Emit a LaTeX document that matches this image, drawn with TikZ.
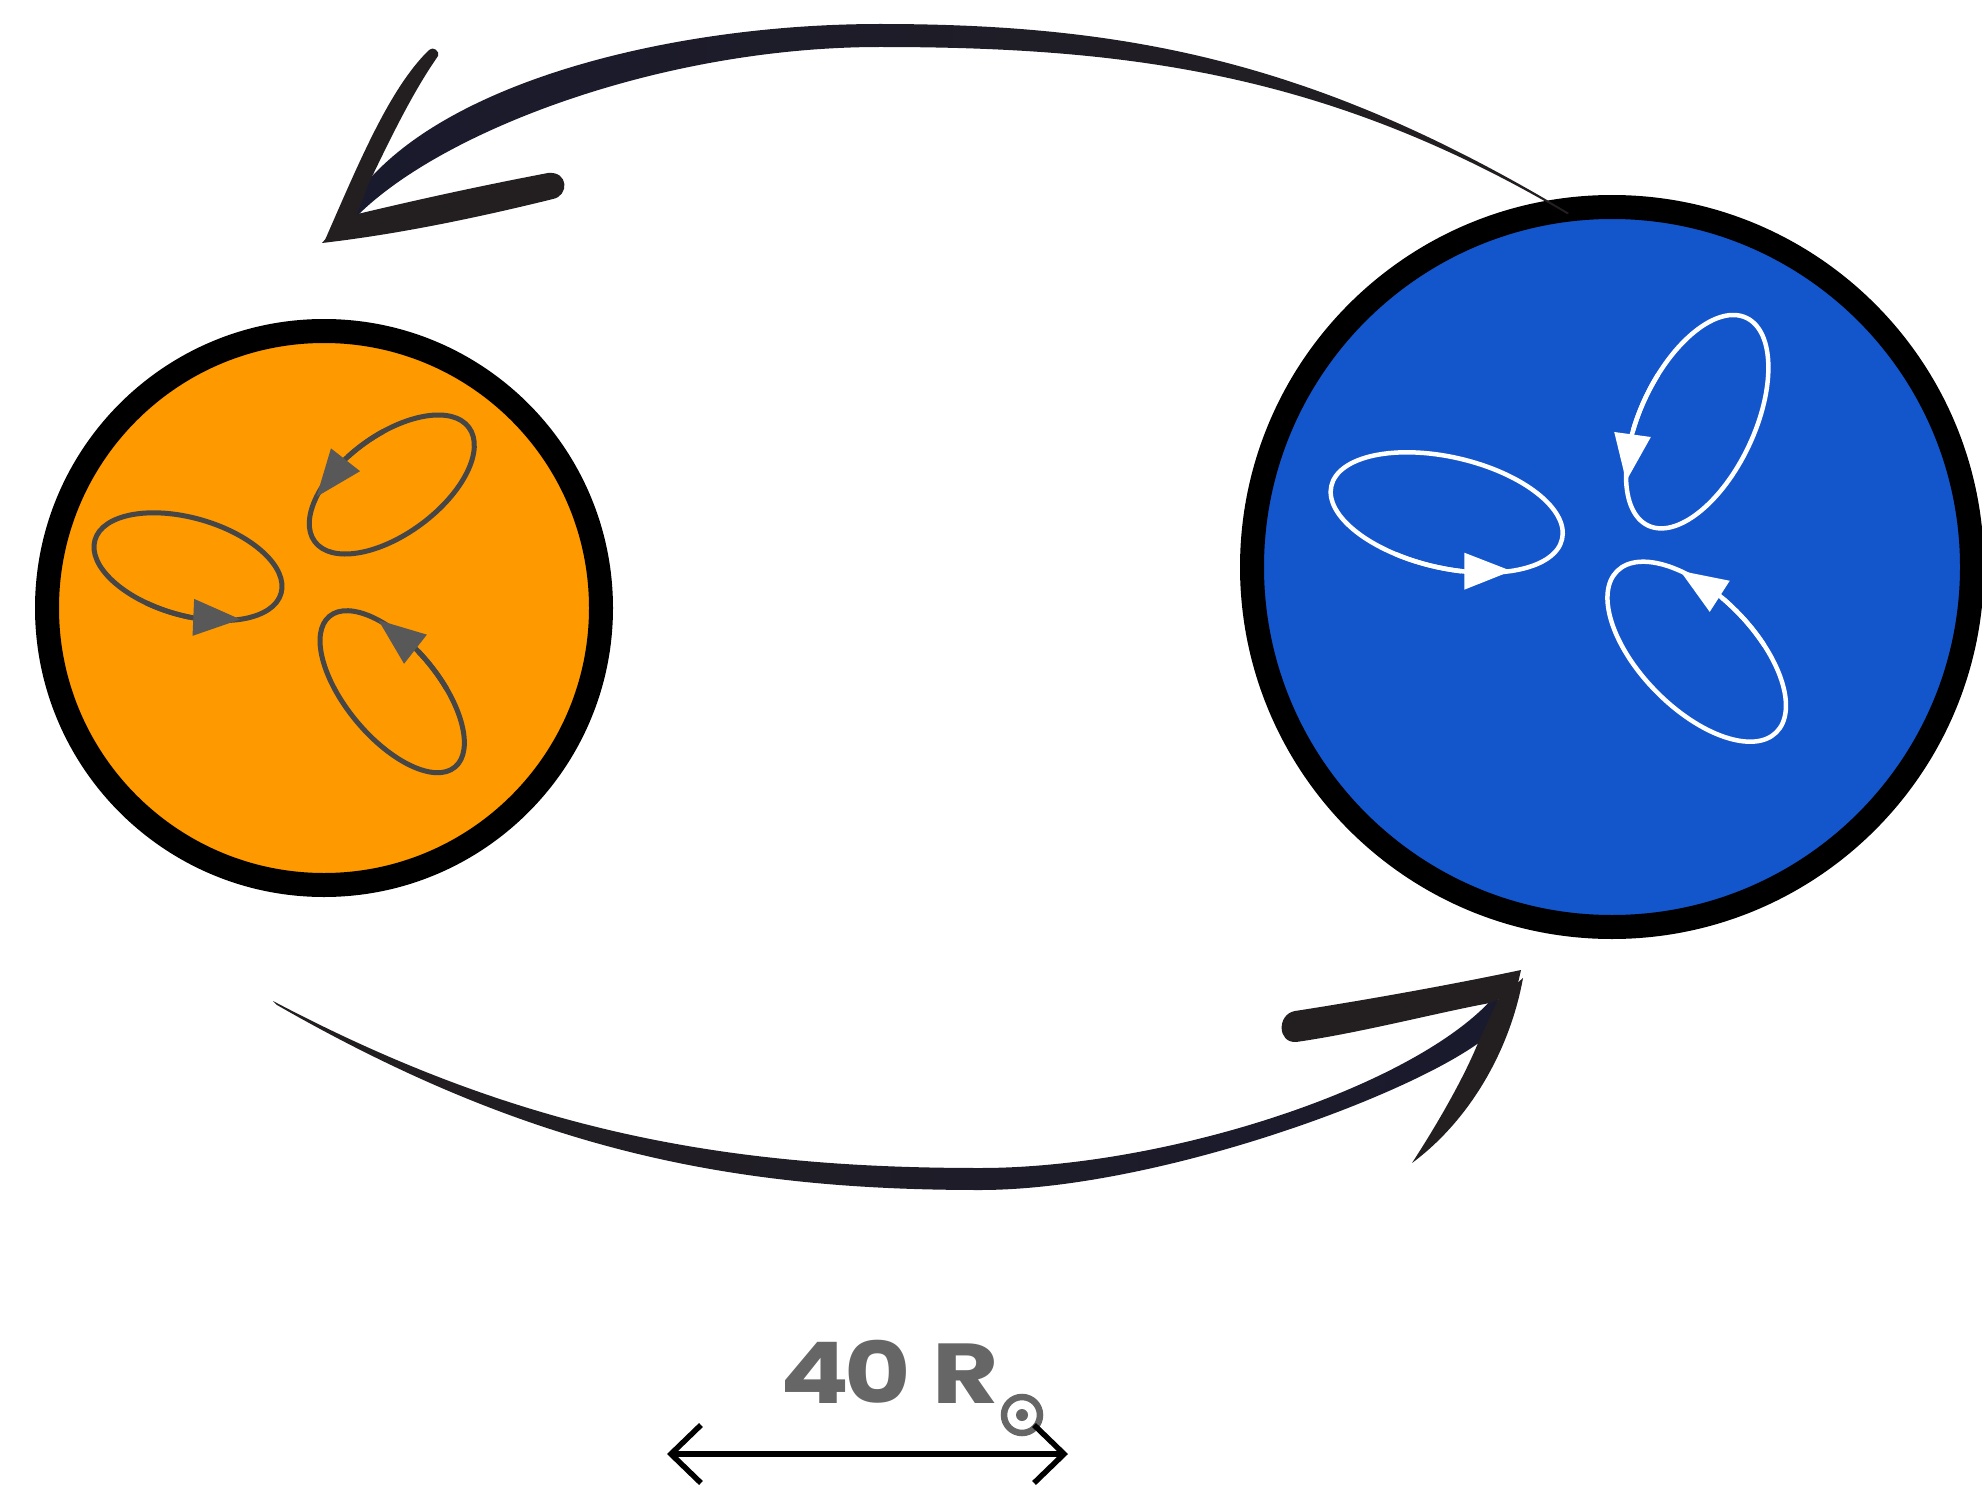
\documentclass[tikz,border=0pt]{standalone}
\usepackage{fontspec}
\newfontfamily\labelfont{Poppins}[FakeStretch=1.2]
\usetikzlibrary{arrows.meta,bending}

\definecolor{starorange}{HTML}{FF9900}
\definecolor{starblue}{HTML}{1356CC}
\definecolor{loopgray}{HTML}{464646}
\definecolor{tipgray}{HTML}{585858}
\definecolor{inkdark}{HTML}{231F20}
\definecolor{inknavy}{HTML}{1A1A2E}
\definecolor{labelgray}{HTML}{666666}

% one circulation loop: centre x, centre y, tilt, semi-axes a and b,
% parameter angle of the arrow tip, line style, head style
\newcommand\spinloop[8]{%
  \begin{scope}[shift={(#1,#2)}, rotate=#3]
    \draw[#7] (0,0) ellipse [x radius=#4pt, y radius=#5pt];
    \draw[#7, #8] (#6-60:#4pt and #5pt)
      arc[start angle=#6-60, end angle=#6, x radius=#4pt, y radius=#5pt];
  \end{scope}}

\begin{document}
\begin{tikzpicture}[x=1pt, y=-1pt,
  star/.style={circle, draw=black, line width=24pt, inner sep=0pt},
  orangeloop/.style={draw=loopgray, line width=5pt},
  blueloop/.style={draw=white, line width=4.5pt},
  orangehead/.style={-{Triangle[length=47pt,width=37pt,flex,line width=0pt,color=tipgray]}},
  bluehead/.style={-{Triangle[length=47pt,width=37pt,flex,line width=0pt,color=white]}},
  scalebar/.style={line width=5.5pt, {Straight Barb[length=30pt,width=58pt]}-{Straight Barb[length=30pt,width=58pt]}}
]
\useasboundingbox (0,0) rectangle (1982,1490);

% the two stars
\node[star, fill=starorange, minimum size=554pt] (orangestar) at (324,608) {};
\node[star, fill=starblue, minimum size=720pt] (bluestar) at (1612,567) {};

% circulation loops in the orange star
\spinloop{188}{566.7}{-16}{96.8}{48.7}{312}{orangeloop}{orangehead}
\spinloop{391.8}{484.5}{36.5}{95.9}{49.4}{135}{orangeloop}{orangehead}
\spinloop{392.2}{691.7}{-50.2}{98.1}{46.3}{130.5}{orangeloop}{orangehead}

% circulation loops in the blue star
\spinloop{1446.7}{512.5}{-13}{118.4}{55.4}{310}{blueloop}{bluehead}
\spinloop{1697.2}{421.7}{64.7}{114.9}{57}{137}{blueloop}{bluehead}
\spinloop{1696.7}{651.7}{-45.4}{113.3}{56.8}{127.6}{blueloop}{bluehead}

% upper brush arrow: from the blue star over to the orange star
\shade[left color=inknavy, right color=inkdark]
  (1569,213) .. controls (1319,63) and (1130,24) .. (880,24)
  .. controls (650,24) and (390,95) .. (336,232)
  -- (346,228) .. controls (420,140) and (650,47) .. (880,47)
  .. controls (1130,47) and (1330,74) .. (1567,214) -- cycle;
% its two barbs
\fill[inkdark] (325,240) .. controls (360,160) and (390,88) .. (429,50)
  .. controls (433,46) and (440,51) .. (438,56)
  .. controls (413,92) and (392,135) .. (368,185) -- (354,222) -- cycle;
\fill[inkdark] (322,243) .. controls (400,234) and (480,217) .. (553,199)
  .. controls (569,196) and (569,171) .. (548,173)
  .. controls (480,186) and (420,199) .. (345,217) -- cycle;

% lower brush arrow: from the orange star over to the blue star
\shade[left color=inkdark, right color=inknavy]
  (273,1001) .. controls (523,1133) and (730,1168) .. (980,1168)
  .. controls (1180,1168) and (1450,1075) .. (1508,978)
  -- (1480,1042) .. controls (1400,1100) and (1150,1190) .. (980,1190)
  .. controls (730,1190) and (530,1150) .. (277,1005) -- cycle;
% its two barbs
\fill[inkdark] (1521,970) .. controls (1450,985) and (1360,1001) .. (1295,1011)
  .. controls (1277,1014) and (1277,1043) .. (1296,1042)
  .. controls (1360,1033) and (1440,1012) .. (1490,1003) -- (1516,992) -- cycle;
\fill[inkdark] (1523,978) .. controls (1510,1050) and (1470,1120) .. (1412,1163)
  .. controls (1440,1120) and (1465,1075) .. (1478,1043) -- (1498,1000) -- cycle;

% separation label and scale bar
\node[font=\labelfont\bfseries\fontsize{85pt}{88pt}\selectfont, text=labelgray,
  anchor=base west, inner sep=0pt] (dist) at (780,1403) {4\kern-5pt0 R};
\node[circle, draw=labelgray, line width=6.5pt, minimum size=36pt, inner sep=0pt] (sun) at (1022,1415) {};
\fill[labelgray] (sun.center) circle[radius=6pt];

\coordinate (scaleL) at (667,1454);
\coordinate (scaleR) at (1068,1454);
\draw[scalebar] (scaleL) -- (scaleR);
\end{tikzpicture}
\end{document}
